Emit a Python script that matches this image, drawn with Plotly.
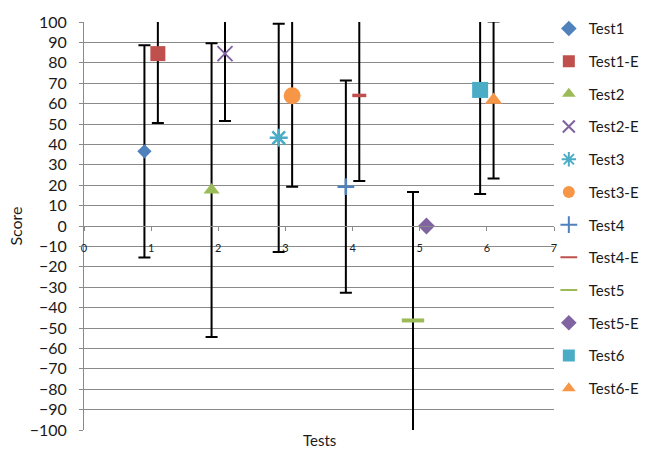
import plotly.graph_objects as go

# ---- data ----
series = ["Test1", "Test1-E", "Test2", "Test2-E", "Test3", "Test3-E",
          "Test4", "Test4-E", "Test5", "Test5-E", "Test6", "Test6-E"]
x_positions = [0.9, 1.1, 1.9, 2.1, 2.9, 3.1, 3.9, 4.1, 4.9, 5.1, 5.9, 6.1]
scores = [36.6, 84.5, 17.6, 84.5, 43.2, 63.8, 19.3, 64.0, -46.3, 0.0, 66.7, 61.8]
errors = [52, 34, 72, 33, 56, 44.5, 52, 42, 63, 0, 51, 38.5]
y_ticks = list(range(-100, 101, 10))
x_ticks = list(range(0, 8))

# ---- styles ----
colors = ["#4F81BD", "#C0504D", "#9BBB59", "#8064A2", "#4BACC6", "#F79646",
          "#4F81BD", "#C0504D", "#9BBB59", "#8064A2", "#4BACC6", "#F79646"]
symbols = ["diamond", "square", "triangle-up", "x-thin-open", "asterisk-open", "circle",
           "cross-thin-open", "line-ew-open", "line-ew-open", "diamond", "square", "triangle-up"]
sizes = [11, 15, 14, 15, 15, 17, 12, 10, 16, 13, 16, 15]
line_w = [0, 0, 0, 2, 2.5, 0, 2.5, 3.5, 4, 0, 0, 0]

FONT = "Lato, 'Open Sans', Arial, sans-serif"
GRID = "#8a8a8a"

fig = go.Figure()
for i, name in enumerate(series):
    open_sym = symbols[i].endswith("-open")
    fig.add_trace(go.Scatter(
        x=[x_positions[i]], y=[scores[i]], name=name, mode="markers",
        legendgroup=name,
        marker=dict(symbol=symbols[i], size=sizes[i], color=colors[i],
                    line=dict(width=line_w[i], color=colors[i] if open_sym else "rgba(0,0,0,0)")),
        error_y=dict(type="data", array=[errors[i]], visible=errors[i] > 0,
                     color="black", thickness=2, width=6),
    ))

fig.update_layout(
    width=656, height=451,
    margin=dict(l=84, r=97, t=20, b=21),
    paper_bgcolor="white", plot_bgcolor="white",
    font=dict(family=FONT, color="#1a1a1a"),
    showlegend=True,
    legend=dict(x=0.989, xanchor="left", y=1.024, yanchor="top",
                font=dict(size=15, family=FONT, color="#1a1a1a"),
                tracegroupgap=10.2, itemsizing="constant", itemwidth=30,
                maxheight=448,
                bgcolor="rgba(0,0,0,0)"),
    xaxis=dict(range=[0, 7], tickvals=x_ticks, ticktext=[str(v) for v in x_ticks],
               anchor="free", position=0.5, showline=True, linecolor=GRID, linewidth=1,
               ticks="outside", ticklen=4, tickcolor=GRID, showgrid=False, zeroline=False,
               tickfont=dict(size=11, family=FONT, color="#1a1a1a"), ticklabelstandoff=8),
    yaxis=dict(range=[-100, 100], tickvals=y_ticks, showgrid=True, gridcolor=GRID,
               gridwidth=1, zeroline=False, showline=True, linecolor=GRID, linewidth=1,
               ticks="outside", ticklen=4, tickcolor=GRID,
               tickfont=dict(size=16, family=FONT, color="#1a1a1a"), ticklabelstandoff=9,
               title=dict(text="Score", font=dict(size=16, family=FONT, color="#1a1a1a"),
                          standoff=3)),
    annotations=[dict(text="Tests", xref="paper", yref="paper", x=0.5, y=-0.051,
                      xanchor="center", yanchor="bottom", showarrow=False,
                      font=dict(size=15, family=FONT, color="#1a1a1a"))],
)

fig.write_html("out.html")
